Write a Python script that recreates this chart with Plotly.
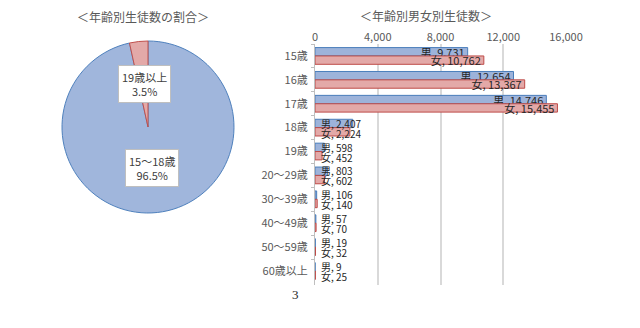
import plotly.graph_objects as go

# ---- data ----
categories = ["15歳", "16歳", "17歳", "18歳", "19歳", "20〜29歳", "30〜39歳", "40〜49歳", "50〜59歳", "60歳以上"]
male = [9731, 12654, 14746, 2407, 598, 803, 106, 57, 19, 9]
female = [10762, 13367, 15455, 2224, 452, 602, 140, 70, 32, 25]
pie_labels = ["15〜18歳", "19歳以上"]
x_ticks = [0, 4000, 8000, 12000, 16000]

young = sum(male[:4]) + sum(female[:4])
older = sum(male[4:]) + sum(female[4:])
pie_values = [young, older]
total = sum(pie_values)

FONT = "Noto Sans CJK JP"
TXT = "#404040"
LBL = "#262626"

male_fill, male_line = "#9db3da", "#4a7ebb"
fem_fill, fem_line = "#e3a9a8", "#be4b48"

def fmt(v):
    return f"{v:,}"

big = 5000
fig = go.Figure()
fig.add_trace(go.Bar(
    y=categories, x=male, orientation="h", name="男",
    marker=dict(color=male_fill, line=dict(color=male_line, width=1)),
    text=[f"男, {fmt(v)}" if v >= big else "" for v in male],
    textposition="inside", insidetextanchor="end",
    textfont=dict(family=FONT, size=11, color=LBL),
    constraintext="none", xaxis="x", yaxis="y", showlegend=False,
))
fig.add_trace(go.Bar(
    y=categories, x=female, orientation="h", name="女",
    marker=dict(color=fem_fill, line=dict(color=fem_line, width=1)),
    text=[f"女, {fmt(v)}" if v >= big else "" for v in female],
    textposition="inside", insidetextanchor="end",
    textfont=dict(family=FONT, size=11, color=LBL),
    constraintext="none", xaxis="x", yaxis="y", showlegend=False,
))

annotations = []
for cat, m, f in zip(categories, male, female):
    if m < big:
        annotations.append(dict(x=0, y=cat, xref="x", yref="y", text=f"男, {fmt(m)}",
                                xanchor="left", yanchor="middle", xshift=4, yshift=4.5, showarrow=False,
                                font=dict(family=FONT, size=10, color=LBL)))
    if f < big:
        annotations.append(dict(x=0, y=cat, xref="x", yref="y", text=f"女, {fmt(f)}",
                                xanchor="left", yanchor="middle", xshift=4, yshift=-5.5, showarrow=False,
                                font=dict(family=FONT, size=10, color=LBL)))

# pie
fig.add_trace(go.Pie(
    labels=pie_labels, values=pie_values, sort=False, direction="clockwise", rotation=0,
    marker=dict(colors=["#a0b6dc", "#e3a9a8"], line=dict(color=["#4f81bd", "#c0504d"], width=1)),
    textinfo="none", hoverinfo="label+percent", showlegend=False,
    domain=dict(x=[62/640, 234/640], y=[(328-213)/328, (328-41)/328]),
))

pct = [v / total * 100 for v in pie_values]
box = dict(xref="paper", yref="paper", showarrow=False, xanchor="center", yanchor="middle",
           bgcolor="white", bordercolor="#bfbfbf", borderwidth=1, borderpad=3,
           font=dict(family=FONT, size=11, color=TXT), align="center")
annotations.append(dict(box, x=152/640, y=1-168/328, text=f"{pie_labels[0]}<br>{pct[0]:.1f}%"))
annotations.append(dict(box, x=144/640, y=1-84/328, text=f"{pie_labels[1]}<br>{pct[1]:.1f}%"))

# titles
plain = dict(xref="paper", yref="paper", showarrow=False, xanchor="center", yanchor="middle")
annotations.append(dict(plain, x=143/640, y=1-16/328, text="＜年齢別生徒数の割合＞",
                        font=dict(family=FONT, size=12, color="#595959")))
annotations.append(dict(plain, x=426/640, y=1-15/328, text="＜年齢別男女別生徒数＞",
                        font=dict(family=FONT, size=12, color="#595959")))
annotations.append(dict(plain, x=295/640, y=1-294/328, text="3",
                        font=dict(family="Liberation Serif", size=13, color="#262626")))

fig.update_layout(
    width=640, height=328, margin=dict(l=0, r=0, t=0, b=0, autoexpand=False),
    paper_bgcolor="white", plot_bgcolor="white",
    barmode="group", bargap=0.3, bargroupgap=0,
    annotations=annotations,
    xaxis=dict(domain=[315/640, 566/640], range=[0, 16000], side="top",
               tickvals=x_ticks, ticktext=[fmt(v) for v in x_ticks],
               showgrid=True, gridcolor="#d9d9d9", gridwidth=1.5, zeroline=False,
               showline=False, ticks="", automargin=False,
               tickfont=dict(family=FONT, size=11, color="#595959")),
    yaxis=dict(domain=[(328-285)/328, (328-44)/328], autorange="reversed",
               showline=True, linecolor="#bfbfbf", linewidth=1,
               ticks="outside", tickson="boundaries", ticklen=3, tickcolor="#bfbfbf",
               ticklabelstandoff=4,
               showgrid=False, automargin=False,
               tickfont=dict(family=FONT, size=11, color="#595959")),
    font=dict(family=FONT),
)

fig.write_html("out.html")
